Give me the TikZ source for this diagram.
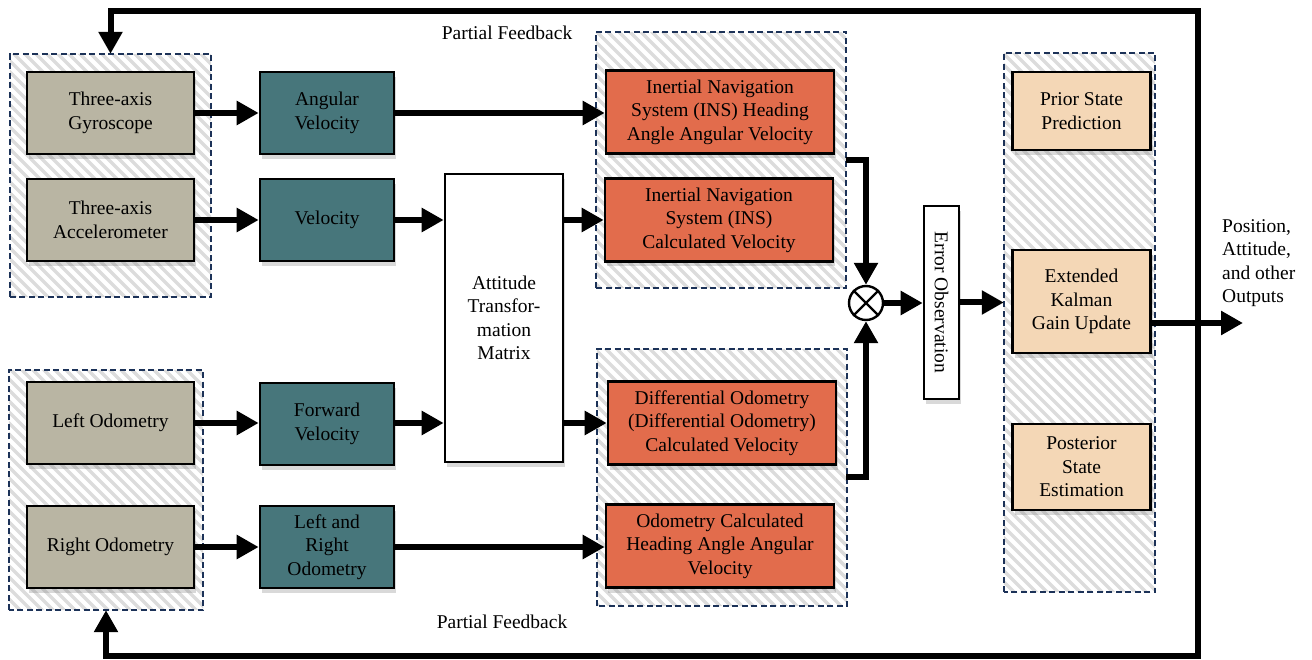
\documentclass[tikz,border=0pt]{standalone}
\usepackage{fontspec}
\setmainfont{Liberation Serif}
\usepackage{graphicx}
\usetikzlibrary{arrows.meta,shadows,calc}
\definecolor{cgray}{RGB}{185,181,163}
\definecolor{cteal}{RGB}{71,118,123}
\definecolor{corange}{RGB}{226,108,76}
\definecolor{cpeach}{RGB}{244,215,182}
\definecolor{cnavy}{RGB}{28,50,88}
\definecolor{chatch}{RGB}{220,220,220}
\begin{document}
\begin{tikzpicture}[x=1pt,y=-1pt,
  every node/.style={font=\fontsize{19.5}{23.5}\selectfont},
  blk/.style={draw=black, line width=2.6pt, align=center, inner sep=0pt,
    drop shadow={shadow xshift=2pt, shadow yshift=-5pt, opacity=0.3}},
  gbox/.style={blk, fill=cgray, minimum width=167pt, minimum height=82pt},
  tbox/.style={blk, fill=cteal, minimum width=134pt, minimum height=82pt},
  obox/.style={blk, fill=corange, minimum width=228pt, minimum height=83pt},
  pbox/.style={blk, fill=cpeach, minimum width=138pt},
  wbox/.style={blk, fill=white},
  grp/.style={inner sep=0pt},
  grpborder/.style={draw=cnavy, line width=2.2pt, dash pattern=on 6pt off 3.5pt},
  stripe/.style={draw=chatch, line width=3.5pt},
  arr/.style={line width=6pt, line join=miter, -{Triangle[length=22pt,width=23pt]}},
  lbl/.style={inner sep=0pt}
]
\useasboundingbox (0,0) rectangle (1312,660);

% groups (areas)
\node[grp, minimum width=201pt, minimum height=243pt] (grpA) at (110.5,175.5) {};
\node[grp, minimum width=194pt, minimum height=240pt] (grpB) at (106,490) {};
\node[grp, minimum width=250pt, minimum height=256pt] (grpC) at (721,160) {};
\node[grp, minimum width=250pt, minimum height=257pt] (grpD) at (722,477.5) {};
\node[grp, minimum width=151pt, minimum height=539pt] (grpE) at (1079.5,322.5) {};

% hatching
\begin{scope}
\clip (grpA.south west) rectangle (grpA.north east)
      (grpB.south west) rectangle (grpB.north east)
      (grpC.south west) rectangle (grpC.north east)
      (grpD.south west) rectangle (grpD.north east)
      (grpE.south west) rectangle (grpE.north east);
\foreach \i in {-700,-689,...,1320} \draw[stripe] (\i,0) -- ++(700,700);
\end{scope}

% group borders
\foreach \g in {grpA,grpB,grpC,grpD,grpE}
  \draw[grpborder] (\g.south west) rectangle (\g.north east);

% sensor boxes
\node[gbox] (gyro) at (110.5,113) {Three-axis\\Gyroscope};
\node[gbox] (acc) at (110.5,220) {Three-axis\\Accelerometer};
\node[gbox] (lodo) at (110.5,423) {Left Odometry};
\node[gbox] (rodo) at (110.5,547) {Right Odometry};

% teal boxes
\node[tbox] (angv) at (327,113) {Angular\\Velocity};
\node[tbox] (vel) at (327,220) {Velocity};
\node[tbox] (fwd) at (327,424) {Forward\\Velocity};
\node[tbox] (lro) at (327,547) {Left and\\Right\\Odometry};

% attitude
\node[wbox, minimum width=118pt, minimum height=288pt] (att) at (504,318) {Attitude\\Transfor-\\mation\\Matrix};

% orange boxes
\node[obox] (insA) at (720,112) {Inertial Navigation\\System (INS) Heading\\Angle Angular Velocity};
\node[obox] (insB) at (719,220) {Inertial Navigation\\System (INS)\\Calculated Velocity};
\node[obox] (diff) at (722,423) {Differential Odometry\\(Differential Odometry)\\Calculated Velocity};
\node[obox] (odoh) at (720,546) {Odometry Calculated\\Heading Angle Angular\\Velocity};

% cross
\node[circle, draw=black, line width=2.4pt, fill=white, minimum size=34pt, inner sep=0pt] (cross) at (866,303) {};
\draw[line width=2.2pt] (cross.north west) -- (cross.south east);
\draw[line width=2.2pt] (cross.north east) -- (cross.south west);

% error observation
\node[wbox, minimum width=35pt, minimum height=193pt] (err) at (941.5,302.5) {\rotatebox{-90}{Error Observation}};

% right boxes
\node[pbox, minimum height=78pt] (prior) at (1081.5,111) {Prior State\\Prediction};
\node[pbox, minimum height=103pt] (ekf) at (1081.5,301.5) {Extended\\Kalman\\Gain Update};
\node[pbox, minimum height=86pt] (post) at (1081.5,467) {Posterior\\State\\Estimation};

% output label
\node[lbl, anchor=west, align=left] (outl) at (1222,263) {Position,\\Attitude,\\and other\\Outputs};

% feedback labels
\node[lbl] (pft) at (507,33) {Partial Feedback};
\node[lbl] (pfb) at (502,622) {Partial Feedback};

% connectors
\draw[arr] (gyro.east) -- (angv.west);
\draw[arr] (acc.east) -- (vel.west);
\draw[arr] (lodo.east) -- (lodo.east -| fwd.west);
\draw[arr] (rodo.east) -- (rodo.east -| lro.west);
\draw[arr] (angv.east) -- (angv.east -| insA.west);
\draw[arr] (vel.east) -- (vel.east -| att.west);
\draw[arr] (fwd.east |- lodo.east) -- (lodo.east -| att.west);
\draw[arr] (att.east |- vel.east) -- (vel.east -| insB.west);
\draw[arr] (att.east |- lodo.east) -- (lodo.east -| diff.west);
\draw[arr] (lro.east |- rodo.east) -- (rodo.east -| odoh.west);

\coordinate (jA) at (846,160);
\coordinate (jB) at (846,477);
\draw[arr] (jA) -| (cross.north);
\draw[arr] (jB) -| (cross.south);
\draw[arr] (cross.east) -- (cross.east -| err.west);
\draw[arr] (err.east) -- (err.east -| grpE.west);

\coordinate (outp) at (1243,323);
\draw[arr] (ekf.east |- outp) -- (outp);

\coordinate (fbT) at (1198,11);
\coordinate (fbB) at (1198,656);
\draw[arr] (fbB) -- (fbT) -| (grpA.north);
\draw[arr] (fbT) -- (fbB) -| (grpB.south);
\end{tikzpicture}
\end{document}
